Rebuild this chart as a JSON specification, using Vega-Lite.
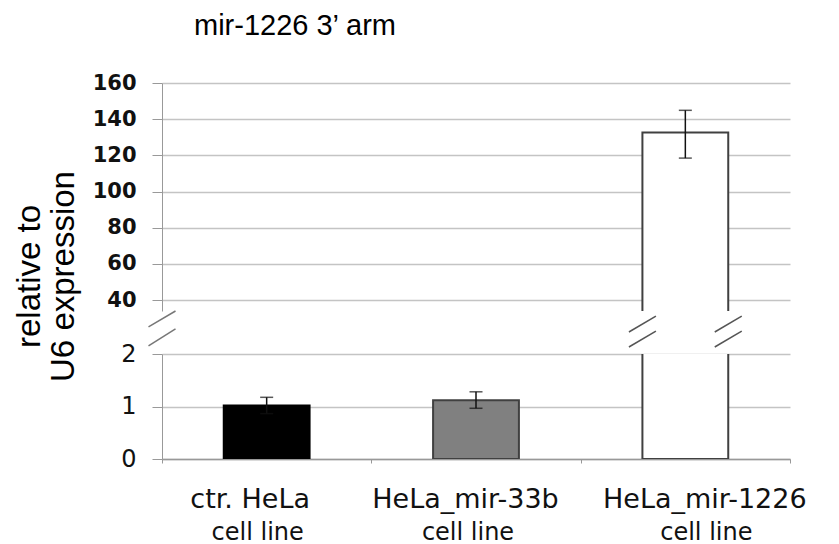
{
  "$schema": "https://vega.github.io/schema/vega-lite/v6.json",
  "background": "white",
  "padding": {"left": 13, "top": 12, "right": 0, "bottom": 0},
  "config": {"view": {"stroke": null}, "font": "DejaVu Sans"},
  "datasets": {
    "bars": [
      {"cell": "ctr. HeLa", "value": 1.02, "lo": 0.865, "hi": 1.175},
      {"cell": "HeLa_mir-33b", "value": 1.12, "lo": 0.966, "hi": 1.28},
      {"cell": "HeLa_mir-1226", "value": 132.7, "lo": 118.5, "hi": 144.9}
    ],
    "barBreaks": [
      {"cell": "HeLa_mir-1226", "lo": 22.4, "hi": 31.2},
      {"cell": "HeLa_mir-1226", "lo": 14.1, "hi": 22.9}
    ],
    "axisBreaks": [
      {"cell": "ctr. HeLa", "lo": 25.2, "hi": 34},
      {"cell": "ctr. HeLa", "lo": 14.7, "hi": 24.1}
    ]
  },
  "bounds": "flush",
  "spacing": 43,
  "vconcat": [
    {
      "width": 628,
      "height": 228,
      "title": {"text": "mir-1226 3\u2019 arm", "font": "Liberation Sans", "fontSize": 29, "fontWeight": "normal", "color": "black", "anchor": "start", "frame": "group", "dx": 32, "offset": 8, "baseline": "alphabetic"},
      "layer": [
        {
          "data": {"name": "bars"},
          "mark": {"type": "bar", "clip": true, "width": {"band": 0.41}, "strokeWidth": 2},
          "encoding": {
            "x": {"field": "cell", "type": "nominal", "scale": {"domain": ["ctr. HeLa", "HeLa_mir-33b", "HeLa_mir-1226"], "paddingInner": 0, "paddingOuter": 0}, "axis": null},
            "y": {"field": "value", "type": "quantitative", "scale": {"domain": [34, 160], "nice": false, "zero": false},
              "axis": {"values": [40, 60, 80, 100, 120, 140, 160], "tickCount": 20, "labelOverlap": false, "title": ["relative to", "U6 expression"], "titleFont": "Liberation Sans", "titleFontSize": 33, "titleFontWeight": "normal", "titleColor": "black", "titleAngle": 270, "titleX": -123, "titleY": 193, "titleAlign": "center", "titleBaseline": "alphabetic", "titleLineHeight": 34,
                "labelFont": "DejaVu Sans", "labelFontSize": 21, "labelFontWeight": "bold", "labelColor": "#111", "labelPadding": 16, "tickSize": 10, "tickColor": "#999", "domainColor": "#999", "grid": true, "gridColor": "#c4c4c4", "gridWidth": 1.5}},
            "fill": {"field": "cell", "type": "nominal", "scale": {"domain": ["ctr. HeLa", "HeLa_mir-33b", "HeLa_mir-1226"], "range": ["#000000", "#808080", "#ffffff"]}, "legend": null},
            "stroke": {"field": "cell", "type": "nominal", "scale": {"domain": ["ctr. HeLa", "HeLa_mir-33b", "HeLa_mir-1226"], "range": ["#000000", "#404040", "#404040"]}, "legend": null}
          }
        },
        {
          "data": {"name": "bars"},
          "mark": {"type": "rule", "clip": true, "color": "#111", "strokeWidth": 1.5},
          "encoding": {
            "x": {"field": "cell", "type": "nominal"},
            "y": {"field": "lo", "type": "quantitative"},
            "y2": {"field": "hi"}
          }
        },
        {
          "data": {"name": "bars"},
          "mark": {"type": "tick", "clip": true, "color": "#111", "size": 13, "thickness": 1.5},
          "encoding": {
            "x": {"field": "cell", "type": "nominal"},
            "y": {"field": "lo", "type": "quantitative"}
          }
        },
        {
          "data": {"name": "bars"},
          "mark": {"type": "tick", "clip": true, "color": "#111", "size": 13, "thickness": 1.5},
          "encoding": {
            "x": {"field": "cell", "type": "nominal"},
            "y": {"field": "hi", "type": "quantitative"}
          }
        },
        {
          "data": {"name": "barBreaks"},
          "mark": {"type": "rule", "color": "#555", "strokeWidth": 1.5, "xOffset": -13.5, "x2Offset": 13.5},
          "encoding": {
            "x": {"field": "cell", "type": "nominal", "bandPosition": 0.295},
            "x2": {"field": "cell", "bandPosition": 0.295},
            "y": {"field": "lo", "type": "quantitative"},
            "y2": {"field": "hi"}
          }
        },
        {
          "data": {"name": "barBreaks"},
          "mark": {"type": "rule", "color": "#555", "strokeWidth": 1.5, "xOffset": -13.5, "x2Offset": 13.5},
          "encoding": {
            "x": {"field": "cell", "type": "nominal", "bandPosition": 0.705},
            "x2": {"field": "cell", "bandPosition": 0.705},
            "y": {"field": "lo", "type": "quantitative"},
            "y2": {"field": "hi"}
          }
        },
        {
          "data": {"name": "axisBreaks"},
          "mark": {"type": "rule", "color": "#777", "strokeWidth": 1.5, "xOffset": -13.5, "x2Offset": 13.5},
          "encoding": {
            "x": {"field": "cell", "type": "nominal", "bandPosition": 0},
            "x2": {"field": "cell", "bandPosition": 0},
            "y": {"field": "lo", "type": "quantitative"},
            "y2": {"field": "hi"}
          }
        }
      ]
    },
    {
      "width": 628,
      "height": 105,
      "data": {"name": "bars"},
      "resolve": {"axis": {"x": "independent"}},
      "layer": [
        {
          "mark": {"type": "bar", "clip": true, "width": {"band": 0.41}, "strokeWidth": 2},
          "encoding": {
            "x": {"field": "cell", "type": "nominal", "scale": {"domain": ["ctr. HeLa", "HeLa_mir-33b", "HeLa_mir-1226"], "paddingInner": 0, "paddingOuter": 0},
              "axis": {"orient": "bottom", "title": null, "labelAngle": 0, "labelLimit": 0, "labelFont": "DejaVu Sans", "labelFontSize": 27, "labelColor": "#111", "labelPadding": 23, "tickBand": "extent", "tickSize": 4, "tickColor": "#999", "domainColor": "#999", "domainWidth": 1.5,
                "labelOffset": {"condition": [{"test": "datum.value === 'ctr. HeLa'", "value": -17}, {"test": "datum.value === 'HeLa_mir-1226'", "value": 19}], "value": -11}}},
            "y": {"field": "value", "type": "quantitative", "scale": {"domain": [0, 2], "nice": false},
              "axis": {"values": [0, 1, 2], "tickCount": 10, "labelExpr": "'' + datum.value", "labelOverlap": false, "title": null, "labelFont": "DejaVu Sans", "labelFontSize": 24, "labelColor": "#111", "labelPadding": 16, "tickSize": 10, "tickColor": "#999", "domainColor": "#999", "grid": true, "gridColor": "#c4c4c4", "gridWidth": 1.5}},
            "fill": {"field": "cell", "type": "nominal", "scale": {"domain": ["ctr. HeLa", "HeLa_mir-33b", "HeLa_mir-1226"], "range": ["#000000", "#808080", "#ffffff"]}, "legend": null},
            "stroke": {"field": "cell", "type": "nominal", "scale": {"domain": ["ctr. HeLa", "HeLa_mir-33b", "HeLa_mir-1226"], "range": ["#000000", "#404040", "#404040"]}, "legend": null}
          }
        },
        {
          "mark": {"type": "rule", "clip": true, "color": "#111", "strokeWidth": 1.5},
          "encoding": {
            "x": {"field": "cell", "type": "nominal",
              "axis": {"orient": "bottom", "title": null, "labelAngle": 0, "labelLimit": 0, "domain": false, "ticks": false, "tickSize": 0, "grid": false, "labelExpr": "'cell line'", "labelFont": "DejaVu Sans", "labelFontSize": 24, "labelColor": "#111", "labelPadding": 61,
                "labelOffset": {"condition": [{"test": "datum.value === 'ctr. HeLa'", "value": -9}, {"test": "datum.value === 'HeLa_mir-1226'", "value": 21}], "value": -8}}},
            "y": {"field": "lo", "type": "quantitative"},
            "y2": {"field": "hi"}
          }
        },
        {
          "mark": {"type": "tick", "clip": true, "color": "#111", "size": 13, "thickness": 1.5},
          "encoding": {
            "x": {"field": "cell", "type": "nominal", "axis": null},
            "y": {"field": "lo", "type": "quantitative"}
          }
        },
        {
          "mark": {"type": "tick", "clip": true, "color": "#111", "size": 13, "thickness": 1.5},
          "encoding": {
            "x": {"field": "cell", "type": "nominal", "axis": null},
            "y": {"field": "hi", "type": "quantitative"}
          }
        }
      ]
    }
  ]
}
